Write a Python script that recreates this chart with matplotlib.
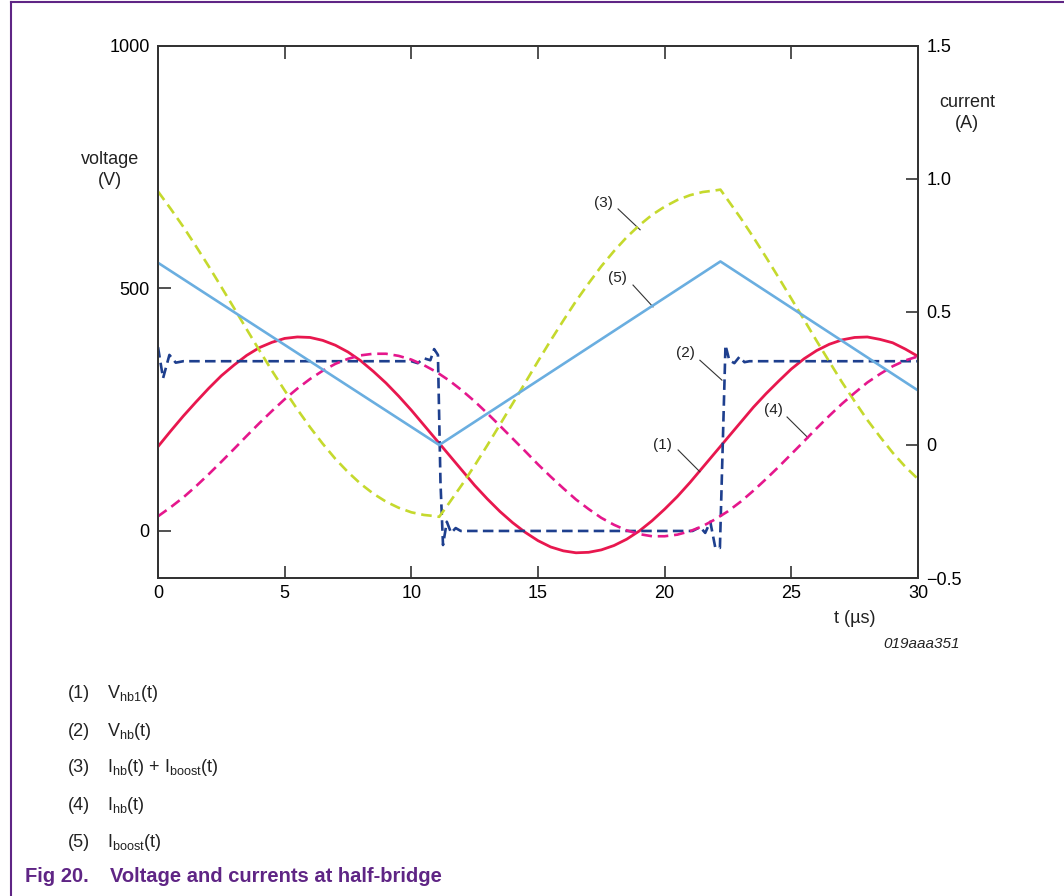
import numpy as np
import matplotlib.pyplot as plt
from matplotlib.lines import Line2D

plt.rcParams['font.family'] = ['Liberation Sans', 'DejaVu Sans']

# ---- data ----
t_grid = np.arange(0, 30.5, 0.5)

# (1) V_hb1(t) [V]
v_hb1 = [174, 206, 237, 266, 294, 320, 342, 362, 378, 389, 397, 400, 399, 393, 383, 369,
         351, 329, 305, 278, 249, 218, 187, 156, 125, 94, 66, 40, 17, -3, -20, -33,
         -41, -45, -44, -39, -30, -17, 0, 21, 45, 71, 100, 131, 162, 193, 224, 255,
         283, 309, 334, 355, 372, 385, 394, 399, 400, 395, 388, 375, 360]

# (4) I_hb(t) [A]
i_hb = [-0.268, -0.234, -0.197, -0.155, -0.110, -0.063, -0.015, 0.034, 0.082, 0.128,
        0.172, 0.212, 0.248, 0.279, 0.305, 0.324, 0.337, 0.343, 0.343, 0.335, 0.321,
        0.300, 0.274, 0.242, 0.205, 0.164, 0.119, 0.072, 0.024, -0.024, -0.073, -0.119,
        -0.163, -0.205, -0.241, -0.274, -0.300, -0.321, -0.335, -0.343, -0.343, -0.337,
        -0.324, -0.305, -0.279, -0.249, -0.213, -0.172, -0.128, -0.082, -0.034, 0.014,
        0.063, 0.110, 0.155, 0.196, 0.235, 0.267, 0.296, 0.318, 0.333]

# (5) I_boost(t) [A]
t_boost = [0, 11.1, 22.2, 30]
i_boost = [0.685, 0.0, 0.69, 0.205]

# (3) I_hb(t) + I_boost(t) [A]
t_sum = [0, 0.5, 1, 1.5, 2, 2.5, 3, 3.5, 4, 4.5, 5, 5.5, 6, 6.5, 7, 7.5, 8, 8.5, 9, 9.5,
         10, 10.5, 11, 11.1, 11.5, 12, 12.5, 13, 13.5, 14, 14.5, 15, 15.5, 16, 16.5, 17,
         17.5, 18, 18.5, 19, 19.5, 20, 20.5, 21, 21.5, 22, 22.2, 22.5, 23, 23.5, 24,
         24.5, 25, 25.5, 26, 26.5, 27, 27.5, 28, 28.5, 29, 29.5, 30]
i_sum = [0.953, 0.888, 0.820, 0.747, 0.672, 0.594, 0.515, 0.435, 0.356, 0.279, 0.205,
         0.134, 0.067, 0.005, -0.052, -0.102, -0.146, -0.183, -0.213, -0.236, -0.253,
         -0.263, -0.268, -0.27, -0.217, -0.149, -0.077, -0.001, 0.077, 0.156, 0.235,
         0.315, 0.393, 0.468, 0.541, 0.608, 0.672, 0.729, 0.781, 0.826, 0.865, 0.896,
         0.921, 0.939, 0.951, 0.957, 0.96, 0.920, 0.853, 0.781, 0.706, 0.629, 0.550,
         0.471, 0.391, 0.313, 0.236, 0.164, 0.094, 0.031, -0.029, -0.082, -0.128]

# (2) V_hb(t) [V] square wave with ringing
t_hb = [0.0, 0.2, 0.45, 0.7, 1.0, 10.0, 10.25, 10.5, 10.75, 10.9, 11.05, 11.15, 11.25,
        11.4, 11.57, 11.75, 11.95, 21.1, 21.4, 21.6, 21.8, 22.0, 22.18, 22.4, 22.55,
        22.75, 22.95, 23.15, 23.35, 30.0]
v_hb = [379, 315, 363, 347, 350, 350, 346, 356, 352, 375, 363, 100, -29,
        19, -4, 6, 0, 0, 8, -4, 19, -35, -35, 383, 352, 346, 359, 348, 350, 350]

legend_nums = ['(1)', '(2)', '(3)', '(4)', '(5)']
legend_texts = [r'$\mathregular{V_{hb1}}$(t)', r'$\mathregular{V_{hb}}$(t)',
                r'$\mathregular{I_{hb}}$(t) + $\mathregular{I_{boost}}$(t)',
                r'$\mathregular{I_{hb}}$(t)', r'$\mathregular{I_{boost}}$(t)']

red = '#e8174e'
pink = '#e5178c'
navy = '#1e3f8e'
lblue = '#6aaee0'
lime = '#c5d92d'
purple = '#5f2585'
axcol = '#333333'

fig = plt.figure(figsize=(10.64, 8.96), dpi=100)
ax = fig.add_axes([0.1485, 0.3549, 0.7143, 0.5938])
ax2 = ax.twinx()

ax.set_xlim(0, 30)
ax.set_ylim(-97, 1000)
ax2.set_ylim(-0.5, 1.5)

ax.plot(t_grid, v_hb1, color=red, lw=2.0, zorder=3)
ax.plot(t_hb, v_hb, color=navy, lw=1.9, dashes=(4, 2), zorder=4)
ax2.plot(t_sum, i_sum, color=lime, lw=1.9, dashes=(4, 2.2))
ax2.plot(t_grid, i_hb, color=pink, lw=1.9, dashes=(4, 2.2))
ax2.plot(t_boost, i_boost, color=lblue, lw=1.9)

ax.set_xticks([0, 5, 10, 15, 20, 25, 30])
ax.set_yticks([0, 500, 1000])
ax2.set_yticks([-0.5, 0, 0.5, 1.0, 1.5])
ax2.set_yticklabels(['\u22120.5', '0', '0.5', '1.0', '1.5'])
ax.tick_params(axis='both', direction='in', length=9, width=1.2, color=axcol,
               labelsize=13, top=True, pad=6)
ax.tick_params(axis='x', pad=5)
ax2.tick_params(axis='y', direction='in', length=9, width=1.2, color=axcol,
                labelsize=13, pad=6)
for a in (ax, ax2):
    for s in a.spines.values():
        s.set_color(axcol)
        s.set_linewidth(1.3)

# curve labels with leader lines
labels = [('(1)', 19.93, 177, (20.53, 21.39), (167, 122)),
          ('(2)', 20.80, 367, (21.39, 22.26), (352, 311)),
          ('(3)', 17.57, 676, (18.16, 19.03), (664, 621)),
          ('(4)', 24.28, 249, (24.83, 25.66), (235, 192)),
          ('(5)', 18.12, 522, (18.75, 19.54), (507, 462))]
for txt, tx, ty, lx, ly in labels:
    ax.text(tx, ty, txt, fontsize=11, color='#222222', ha='center', va='center', zorder=6)
    ax.plot(lx, ly, color='#333333', lw=0.8, zorder=6)

fig.text(110 / 1064, 1 - 170 / 896, 'voltage\n(V)', ha='center', va='center',
         fontsize=13, color='#222222', linespacing=1.3)
fig.text(967 / 1064, 1 - 113 / 896, 'current\n(A)', ha='center', va='center',
         fontsize=13, color='#222222', linespacing=1.3)
fig.text(855 / 1064, 1 - 618 / 896, 't (\u00b5s)', ha='center', va='center',
         fontsize=13, color='#222222')
fig.text(922 / 1064, 1 - 644 / 896, '019aaa351', ha='center', va='center',
         fontsize=11, style='italic', color='#222222')

ys = [694, 731, 768, 805, 842]
for n, lab, y in zip(legend_nums, legend_texts, ys):
    fig.text(68 / 1064, 1 - y / 896, n, ha='left', va='center', fontsize=13, color='#222222')
    fig.text(107 / 1064, 1 - y / 896, lab, ha='left', va='center', fontsize=13, color='#222222')

fig.text(25 / 1064, 1 - 876 / 896, 'Fig 20.', ha='left', va='center', fontsize=14.5,
         fontweight='bold', color=purple)
fig.text(110 / 1064, 1 - 876 / 896, 'Voltage and currents at half-bridge', ha='left',
         va='center', fontsize=14.5, fontweight='bold', color=purple)

# page frame
fig.add_artist(Line2D([11 / 1064, 11 / 1064], [0, 1 - 2 / 896], color=purple, lw=1.5,
                      transform=fig.transFigure))
fig.add_artist(Line2D([11 / 1064, 1], [1 - 2 / 896, 1 - 2 / 896], color=purple, lw=1.5,
                      transform=fig.transFigure))

fig.savefig('out.png', dpi=100)
